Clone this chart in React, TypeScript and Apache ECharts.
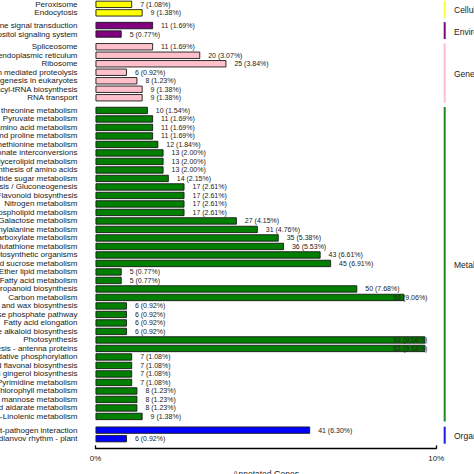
import React, { useEffect, useRef } from "react";
import * as echarts from "echarts";

// ---- Data ----
const TOTAL_GENES = 651;

const groupTitles = [
  "Cellular Processes",
  "Environmental Information Processing",
  "Genetic Information Processing",
  "Metabolism",
  "Organismal Systems",
];

const cellularNames = ["Peroxisome", "Endocytosis"];
const cellularCounts = [7, 9];

const environmentalNames = [
  "Plant hormone signal transduction",
  "Phosphatidylinositol signaling system",
];
const environmentalCounts = [11, 5];

const geneticNames = [
  "Spliceosome",
  "Protein processing in endoplasmic reticulum",
  "Ribosome",
  "Ubiquitin mediated proteolysis",
  "Ribosome biogenesis in eukaryotes",
  "Aminoacyl-tRNA biosynthesis",
  "RNA transport",
];
const geneticCounts = [11, 20, 25, 6, 8, 9, 9];

const metabolismNames = [
  "Glycine, serine and threonine metabolism",
  "Pyruvate metabolism",
  "Cyanoamino acid metabolism",
  "Arginine and proline metabolism",
  "Cysteine and methionine metabolism",
  "Pentose and glucuronate interconversions",
  "Glycerolipid metabolism",
  "Biosynthesis of amino acids",
  "Amino sugar and nucleotide sugar metabolism",
  "Glycolysis / Gluconeogenesis",
  "Flavonoid biosynthesis",
  "Nitrogen metabolism",
  "Glycerophospholipid metabolism",
  "Galactose metabolism",
  "Phenylalanine metabolism",
  "Glyoxylate and dicarboxylate metabolism",
  "Glutathione metabolism",
  "Carbon fixation in photosynthetic organisms",
  "Starch and sucrose metabolism",
  "Ether lipid metabolism",
  "Fatty acid metabolism",
  "Phenylpropanoid biosynthesis",
  "Carbon metabolism",
  "Cutin, suberine and wax biosynthesis",
  "Pentose phosphate pathway",
  "Fatty acid elongation",
  "Isoquinoline alkaloid biosynthesis",
  "Photosynthesis",
  "Photosynthesis - antenna proteins",
  "Oxidative phosphorylation",
  "Flavone and flavonal biosynthesis",
  "Stilbenoid, diarylheptanoid and gingerol biosynthesis",
  "Pyrimidine metabolism",
  "Porphyrin and chlorophyll metabolism",
  "Fructose and mannose metabolism",
  "Ascorbate and aldarate metabolism",
  "alpha-Linolenic metabolism",
];
const metabolismCounts = [
  10, 11, 11, 11, 12, 13, 13, 13, 14, 17, 17, 17, 17, 27, 31, 35, 36, 43, 45, 5,
  5, 50, 59, 6, 6, 6, 6, 63, 63, 7, 7, 7, 7, 8, 8, 8, 9,
];

const organismalNames = ["Plant-pathogen interaction", "Circadianvov rhythm - plant"];
const organismalCounts = [41, 6];

const xTickLabels = ["0%", "10%"];
const xAxisTitle = "Annotated Genes";

const groupNames = [cellularNames, environmentalNames, geneticNames, metabolismNames, organismalNames];
const groupCounts = [cellularCounts, environmentalCounts, geneticCounts, metabolismCounts, organismalCounts];

// ---- Styles / layout ----
const FONT = "'Liberation Sans', Arial, Helvetica, sans-serif";
const barColors = ["#ffff00", "#800080", "#ffc0cb", "#007f00", "#0000ff"];
const lineColors = ["#ffff33", "#7a0a7a", "#ffc0cb", "#1f8a1f", "#1a1ae0"];
const ROW_H = 8.5;
const GAPS = [4.2, 4.2, 4.2, 5.2];
const TOP0 = 0.1;
const GRID_LEFT = 95.5;
const GRID_WIDTH = 340.8;
const LABEL_LIMIT = GRID_LEFT + GRID_WIDTH * 0.974;

export default function App() {
  const ref = useRef<HTMLDivElement>(null);

  useEffect(() => {
    if (!ref.current) return;
    const chart = echarts.init(ref.current, undefined, { renderer: "svg" });

    const tops: number[] = [];
    const heights: number[] = [];
    let y = TOP0;
    groupNames.forEach((names, i) => {
      tops.push(y);
      const h = names.length * ROW_H;
      heights.push(h);
      y += h + (GAPS[i] || 0);
    });

    const last = groupNames.length - 1;

    const grids = groupNames.map((_, i) => ({
      left: GRID_LEFT,
      width: GRID_WIDTH,
      top: tops[i],
      height: heights[i],
      containLabel: false,
      outerBoundsMode: "none",
    }));

    const xAxes = groupNames.map((_, i) => ({
      type: "value",
      gridIndex: i,
      min: 0,
      max: 10,
      interval: 10,
      show: i === last,
      offset: 5.5,
      splitLine: { show: false },
      axisLine: { show: true, lineStyle: { color: "#000", width: 1.3 } },
      axisTick: { show: true, inside: true, length: 3, lineStyle: { color: "#000", width: 1.3 } },
      axisLabel: {
        show: true,
        margin: 6,
        fontSize: 8,
        color: "#222",
        fontFamily: FONT,
        showMinLabel: true,
        showMaxLabel: true,
        formatter: (v: number) => (v === 0 ? xTickLabels[0] : xTickLabels[1]),
      },
      name: i === last ? xAxisTitle : "",
      nameLocation: "middle",
      nameGap: 21,
      nameTextStyle: { fontSize: 8.5, color: "#222", fontFamily: FONT },
    }));

    const yAxes = groupNames.map((names, i) => ({
      type: "category",
      gridIndex: i,
      data: names,
      inverse: true,
      axisLine: { show: false },
      axisTick: { show: false },
      splitLine: { show: false },
      axisLabel: {
        margin: 18,
        fontSize: 8,
        color: "#1a1a1a",
        fontFamily: FONT,
        interval: 0,
      },
    }));

    const series = groupNames.map((names, i) => {
      const counts = groupCounts[i];
      return {
        type: "bar",
        xAxisIndex: i,
        yAxisIndex: i,
        barCategoryGap: "14%",
        data: counts.map((c) => (c / TOTAL_GENES) * 100),
        itemStyle: { color: barColors[i], borderColor: "#1a1a1a", borderWidth: 0.9 },
        label: {
          show: true,
          position: "right",
          distance: 8,
          fontSize: 7,
          color: "#222",
          fontFamily: FONT,
          formatter: (p: any) => `${counts[p.dataIndex]} (${((counts[p.dataIndex] / TOTAL_GENES) * 100).toFixed(2)}%)`,
        },
        labelLayout: (p: any) => {
          const r = p.labelRect;
          if (r && r.x + r.width > LABEL_LIMIT) {
            return {
              x: LABEL_LIMIT - r.width,
              y: p.rect.y + p.rect.height / 2,
              align: "left",
              verticalAlign: "middle",
            };
          }
          return {};
        },
      };
    });

    const graphics: any[] = [];
    groupTitles.forEach((t, i) => {
      const top = tops[i] + 0.8;
      const bottom = tops[i] + heights[i] + 0.8;
      graphics.push({
        type: "line",
        shape: { x1: 444.7, y1: top, x2: 444.7, y2: bottom },
        style: { stroke: lineColors[i], lineWidth: 2 },
      });
      graphics.push({
        type: "text",
        x: 454,
        y: (top + bottom) / 2 + 1,
        style: {
          text: t,
          fontSize: 8.5,
          fill: "#222",
          fontFamily: FONT,
          verticalAlign: "middle",
          align: "left",
        },
      });
    });

    chart.setOption({
      animation: false,
      backgroundColor: "#ffffff",
      textStyle: { fontFamily: FONT },
      grid: grids,
      xAxis: xAxes,
      yAxis: yAxes,
      series,
      graphic: graphics,
    } as any);

    return () => chart.dispose();
  }, []);

  return (
    <div
      ref={ref}
      style={{ position: "absolute", left: 0, top: 0, width: 474, height: 474, overflow: "hidden" }}
    />
  );
}
